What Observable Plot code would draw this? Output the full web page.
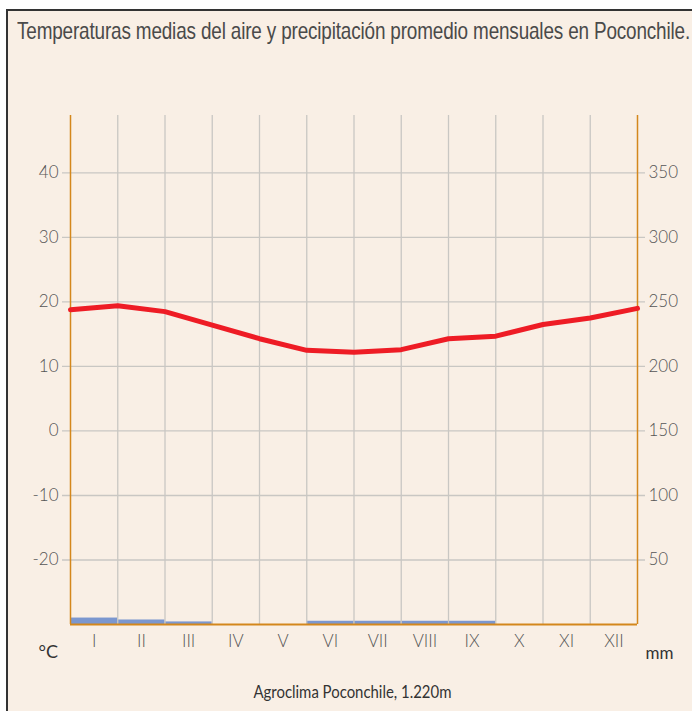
<!DOCTYPE html>
<html>
<head>
<meta charset="utf-8">
<script src="https://cdn.jsdelivr.net/npm/d3@7"></script>
<script src="https://cdn.jsdelivr.net/npm/@observablehq/plot@0.6"></script>
<style>
  html, body { margin: 0; padding: 0; background: #ffffff; }
  #page { position: relative; width: 692px; height: 711px; overflow: hidden; background: #ffffff; }
  #box { position: absolute; left: 6px; top: 9px; width: 700px; height: 720px;
         background: #f9efe5; border-left: 2px solid #333; border-top: 2px solid #333; }
  #title { position: absolute; left: 17px; top: 17px; white-space: nowrap; transform-origin: 0 0;
           font-family: "Liberation Sans", sans-serif; font-size: 24px;
           color: #4a4a4a; letter-spacing: -0.2px; }
  #chart { position: absolute; left: 0; top: 100px; }
  #capwrap { position: absolute; left: 12px; width: 680px; top: 680px; text-align: center; }
  #caption { display: inline-block; white-space: nowrap; transform-origin: 50% 50%;
             font-family: Lato, "Open Sans", sans-serif; font-size: 18px; color: #333; }
</style>
</head>
<body>
<div id="page">
  <div id="box"></div>
  <div id="title">Temperaturas medias del aire y precipitación promedio mensuales en Poconchile.</div>
  <div id="chart"></div>
  <div id="capwrap"><span id="caption">Agroclima Poconchile, 1.220m</span></div>
</div>
<script>
const months = ["I","II","III","IV","V","VI","VII","VIII","IX","X","XI","XII"];
// precipitation, mm per month
const precip = [5, 3.5, 2, 0, 0, 2.5, 2.5, 2.5, 2.5, 0, 0, 0];
// temperature line points at month boundaries (13 points)
const tempPos = [0,1,2,3,4,5,6,7,8,9,10,11,12];
const temps = [18.8, 19.4, 18.5, 16.4, 14.3, 12.5, 12.2, 12.6, 14.3, 14.7, 16.5, 17.5, 19.0];
const tempTicks = [-20, -10, 0, 10, 20, 30, 40];
const mmTicks = [50, 100, 150, 200, 250, 300, 350];

const mmToT = mm => (mm - 150) / 5;
const yMin = -30, yMax = 48.9;

const bars = precip.map((p, i) => ({x1: i, x2: i + 1, p}));
const line = tempPos.map((x, i) => ({x, t: temps[i]}));
const mmTickData = mmTicks.map(m => ({m, t: mmToT(m)}));

const orange = "#d4871c";
const grid = "#c9c7c3";
const tickText = "#555";

const chart = Plot.plot({
  width: 692,
  height: 570,
  marginLeft: 70,
  marginRight: 55,
  marginTop: 15,
  marginBottom: 46,
  style: {background: "transparent", fontFamily: "Lato, sans-serif", fontSize: "17px", color: tickText},
  x: {domain: [0, 12], axis: null},
  y: {domain: [yMin, yMax], axis: null},
  marks: [
    Plot.rect(bars, {x1: "x1", x2: "x2", y1: yMin, y2: d => yMin + d.p / 5, fill: "#7b97cf"}),
    Plot.ruleY(tempTicks, {stroke: grid, strokeWidth: 1.3, insetLeft: -8, insetRight: -8}),
    Plot.ruleX(d3.range(1, 12), {stroke: grid, strokeWidth: 1.3}),
    Plot.ruleX([0, 12], {stroke: orange, strokeWidth: 1.5}),
    Plot.ruleY([yMin], {stroke: orange, strokeWidth: 2}),
    Plot.line(line, {x: "x", y: "t", stroke: "#ee1c25", strokeWidth: 5, strokeLinecap: "round", strokeLinejoin: "round"}),
    Plot.text(tempTicks, {x: 0, y: d => d, text: d => String(d), textAnchor: "end", dx: -12, fill: tickText, fontWeight: 300}),
    Plot.text(mmTickData, {x: 12, y: "t", text: d => String(d.m), textAnchor: "start", dx: 11, fill: tickText, fontWeight: 300}),
    Plot.text(months, {x: (d, i) => i + 0.5, y: yMin, text: d => d, dy: 17, fill: tickText, fontWeight: 300}),
    Plot.text(["°C"], {frameAnchor: "bottom-left", dx: -32, dy: 33, text: d => d, fill: "#333", fontSize: 18}),
    Plot.text(["mm"], {frameAnchor: "bottom-right", dx: 36, dy: 34, text: d => d, fill: "#333", fontSize: 17})
  ]
});
document.getElementById("chart").appendChild(chart);

// condense title and caption to the reference's widths
const title = document.getElementById("title");
const tw = title.getBoundingClientRect().width;
title.style.transform = `scaleX(${673 / tw})`;
const cap = document.getElementById("caption");
const cw = cap.getBoundingClientRect().width;
cap.style.transform = `scaleX(${198 / cw})`;
</script>
</body>
</html>
